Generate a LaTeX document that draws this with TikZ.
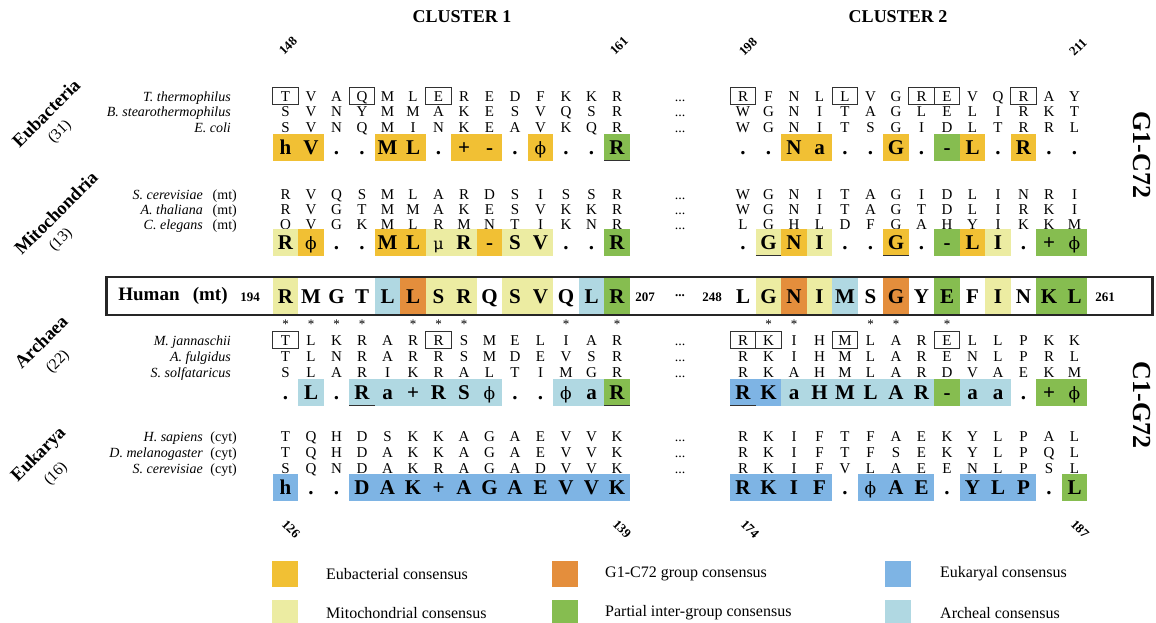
\documentclass[tikz,border=0pt]{standalone}
\usepackage{fontspec}
\setmainfont{Liberation Serif}
\newfontfamily\dvs{DejaVu Serif}
\definecolor{cEub}{RGB}{241,192,52}
\definecolor{cGone}{RGB}{228,142,60}
\definecolor{cEuk}{RGB}{126,180,228}
\definecolor{cMit}{RGB}{236,236,162}
\definecolor{cPar}{RGB}{134,189,80}
\definecolor{cArc}{RGB}{176,216,226}
\definecolor{lineg}{RGB}{50,50,50}
\newcommand{\phiG}{{\dvs\mdseries\fontsize{17}{17}\selectfont ϕ}}
\newcommand{\muG}{{\dvs\mdseries\fontsize{16}{16}\selectfont μ}}
\newcommand{\seqrow}[4]{%
  \foreach \lt [count=\i] in {#4} {
    \node[seqletter] (#1-\i) at ({#2+(\i-1)*25.5},#3) {\lt};
  }}
\newcommand{\consrow}[4]{%
  \foreach \lt/\cc [count=\i] in {#4} {
    \path[fill=\cc] ({#2+(\i-1)*25.5-12.75},{#3-13.5}) rectangle ++(25.7,27);
    \node[consletter] (#1-\i) at ({#2+(\i-1)*25.5},#3) {\lt};
  }}
\newcommand{\humrow}[4]{%
  \foreach \lt/\cc [count=\i] in {#4} {
    \path[fill=\cc] ({#2+(\i-1)*25.5-12.75},{#3-18}) rectangle ++(25.7,36);
    \node[consletter] (#1-\i) at ({#2+(\i-1)*25.5},#3) {\lt};
  }}
\begin{document}
\begin{tikzpicture}[x=1pt,y=-1pt,
  seqletter/.style={font=\fontsize{15}{15}\selectfont, inner sep=0pt, text height=10pt, text depth=0pt},
  consletter/.style={font=\bfseries\fontsize{21}{21}\selectfont, inner sep=0pt, text height=14pt, text depth=0pt},
  spname/.style={anchor=east, font=\itshape\fontsize{14}{14}\selectfont, inner sep=0pt, text height=10pt, text depth=0pt},
  spsuf/.style={anchor=east, font=\fontsize{14}{14}\selectfont, inner sep=0pt, text height=10pt, text depth=0pt},
  ell/.style={font=\fontsize{14}{14}\selectfont, inner sep=0pt, text height=10pt, text depth=0pt},
  boxd/.style={draw=lineg, line width=1.1pt, minimum width=25.5pt, minimum height=17pt, inner sep=0pt},
  astk/.style={font=\fontsize{13}{13}\selectfont, inner sep=0pt},
  uline/.style={draw=lineg, line width=1.6pt},
  clus/.style={font=\bfseries\fontsize{18}{18}\selectfont, inner sep=0pt},
  numlab/.style={font=\bfseries\fontsize{13}{13}\selectfont, inner sep=0pt},
  grp/.style={font=\bfseries\fontsize{18.5}{18.5}\selectfont, inner sep=0pt},
  grpn/.style={font=\fontsize{15.5}{15.5}\selectfont, inner sep=0pt},
  rlab/.style={font=\bfseries\fontsize{26}{26}\selectfont, inner sep=0pt},
  legsq/.style={minimum width=26pt, minimum height=26pt, inner sep=0pt},
  legtx/.style={anchor=west, font=\fontsize{16}{16}\selectfont, inner sep=0pt},
  humlab/.style={font=\bfseries\fontsize{19}{19}\selectfont, inner sep=0pt},
  humnum/.style={font=\bfseries\fontsize{13}{13}\selectfont, inner sep=0pt}
]
\useasboundingbox (0,0) rectangle (1156,622);

% headings
\node[clus] (cl1) at (462,17) {CLUSTER 1};
\node[clus] (cl2) at (898,17) {CLUSTER 2};
\node[numlab, rotate=45] (n148) at (288,46) {148};
\node[numlab, rotate=45] (n161) at (619,46) {161};
\node[numlab, rotate=45] (n198) at (748,47) {198};
\node[numlab, rotate=45] (n211) at (1078,47) {211};
\node[numlab, rotate=-45] (n126) at (291,529) {126};
\node[numlab, rotate=-45] (n139) at (622,529) {139};
\node[numlab, rotate=-45] (n174) at (750,529) {174};
\node[numlab, rotate=-45] (n187) at (1080,529) {187};

% group labels
\node[grp, rotate=45] (geub) at (46,113) {Eubacteria};
\node[grpn, rotate=45] (neub) at (60,132) {(31)};
\node[grp, rotate=45] (gmit) at (56,213) {Mitochondria};
\node[grpn, rotate=45] (nmit) at (61,240) {(13)};
\node[grp, rotate=45] (garc) at (41,342) {Archaea};
\node[grpn, rotate=45] (narc) at (58,362) {(22)};
\node[grp, rotate=45] (geuk) at (39,455) {Eukarya};
\node[grpn, rotate=45] (neuk) at (56,474) {(16)};
\node[rlab, rotate=-90] (g1c72) at (1142,155) {G1-C72};
\node[rlab, rotate=-90] (c1g72) at (1142,405) {C1-G72};

% ---------------- Eubacteria
\node[spname] (ntt) at (231,96) {T. thermophilus};
\node[spname] (nbs) at (231,111.5) {B. stearothermophilus};
\node[spname] (nec) at (231,127) {E. coli};
\seqrow{tta}{285.5}{96}{T,V,A,Q,M,L,E,R,E,D,F,K,K,R}
\seqrow{ttb}{743}{96}{R,F,N,L,L,V,G,R,E,V,Q,R,A,Y}
\seqrow{bsa}{285.5}{111.5}{S,V,N,Y,M,M,A,K,E,S,V,Q,S,R}
\seqrow{bsb}{743}{111.5}{W,G,N,I,T,A,G,L,E,L,I,R,K,T}
\seqrow{eca}{285.5}{127}{S,V,N,Q,M,I,N,K,E,A,V,K,Q,R}
\seqrow{ecb}{743}{127}{W,G,N,I,T,S,G,I,D,L,T,R,R,L}
\foreach \k in {1,4,7} \node[boxd] (btta\k) at (tta-\k) {};
\foreach \k in {1,5,8,9,12} \node[boxd] (bttb\k) at (ttb-\k) {};
\foreach \r/\yy in {tt/96, bs/111.5, ec/127} \node[ell] (el\r) at (680,\yy) {...};
\consrow{cea}{285.5}{147}{h/cEub,V/cEub,./none,./none,M/cEub,L/cEub,./none,+/cEub,-/cEub,./none,\phiG/cEub,./none,./none,R/cPar}
\consrow{ceb}{743}{147}{./none,./none,N/cEub,a/cEub,./none,./none,G/cEub,./none,-/cPar,L/cEub,./none,R/cEub,./none,./none}
\draw[uline] ([xshift=-12.75pt,yshift=-13.5pt]cea-14.center) -- ++(25.5,0);

% ---------------- Mitochondria
\node[spname] (nsc) at (203,194.5) {S. cerevisiae};
\node[spsuf] (xsc) at (237,194.5) {(mt)};
\node[spname] (nat) at (203,209) {A. thaliana};
\node[spsuf] (xat) at (237,209) {(mt)};
\node[spname] (nce) at (203,224) {C. elegans};
\node[spsuf] (xce) at (237,224) {(mt)};
\seqrow{sca}{285.5}{194.5}{R,V,Q,S,M,L,A,R,D,S,I,S,S,R}
\seqrow{scb}{743}{194.5}{W,G,N,I,T,A,G,I,D,L,I,N,R,I}
\seqrow{ata}{285.5}{209}{R,V,G,T,M,M,A,K,E,S,V,K,K,R}
\seqrow{atb}{743}{209}{W,G,N,I,T,A,G,T,D,L,I,R,K,I}
\seqrow{cea2}{285.5}{224}{Q,V,G,K,M,L,R,M,N,T,I,K,N,R}
\seqrow{ceb2}{743}{224}{L,G,H,L,D,F,G,A,H,Y,I,K,K,M}
\foreach \r/\yy in {sc/194.5, at/209, ce/224} \node[ell] (el\r) at (680,\yy) {...};
\consrow{cma}{285.5}{242}{R/cMit,\phiG/cEub,./none,./none,M/cEub,L/cEub,\muG/cMit,R/cMit,-/cEub,S/cMit,V/cMit,./none,./none,R/cPar}
\consrow{cmb}{743}{242}{./none,G/cMit,N/cEub,I/cMit,./none,./none,G/cEub,./none,-/cPar,L/cEub,I/cMit,./none,+/cPar,\phiG/cPar}
\draw[uline] ([xshift=-12.75pt,yshift=-13.5pt]cmb-2.center) -- ++(25.5,0);
\draw[uline] ([xshift=-12.75pt,yshift=-13.5pt]cmb-7.center) -- ++(25.5,0);

% ---------------- Human
\humrow{hua}{285.5}{296}{R/cMit,M/none,G/none,T/none,L/cArc,L/cGone,S/cMit,R/cMit,Q/none,S/cMit,V/cMit,Q/none,L/cArc,R/cPar}
\humrow{hub}{743}{296}{L/none,G/cMit,N/cGone,I/cMit,M/cArc,S/none,G/cGone,Y/none,E/cPar,F/none,I/cMit,N/none,K/cPar,L/cPar}
\node[draw=black!85, line width=2.5pt, minimum width=1046pt, minimum height=38pt, inner sep=0pt] (hbox) at (629.5,296) {};
\node[humlab] (hlab) at (173,296) {Human\hspace{0.7em}(mt)};
\node[humnum] (h194) at (250,297) {194};
\node[humnum] (h207) at (645,297) {207};
\node[humnum] (hdots) at (680,296) {...};
\node[humnum] (h248) at (712,297) {248};
\node[humnum] (h261) at (1105,297) {261};

% stars
\foreach \k in {1,2,3,4,6,7,8,12,14} \node[astk] (sa\k) at ({285.5+(\k-1)*25.5},324) {*};
\foreach \k in {2,3,6,7,9} \node[astk] (sb\k) at ({743+(\k-1)*25.5},324) {*};

% ---------------- Archaea
\node[spname] (nmj) at (231,340) {M. jannaschii};
\node[spname] (naf) at (231,356.5) {A. fulgidus};
\node[spname] (nss) at (231,372.5) {S. solfataricus};
\seqrow{mja}{285.5}{340}{T,L,K,R,A,R,R,S,M,E,L,I,A,R}
\seqrow{mjb}{743}{340}{R,K,I,H,M,L,A,R,E,L,L,P,K,K}
\seqrow{afa}{285.5}{356.5}{T,L,N,R,A,R,R,S,M,D,E,V,S,R}
\seqrow{afb}{743}{356.5}{R,K,I,H,M,L,A,R,E,N,L,P,R,L}
\seqrow{ssa}{285.5}{372.5}{S,L,A,R,I,K,R,A,L,T,I,M,G,R}
\seqrow{ssb}{743}{372.5}{R,K,A,H,M,L,A,R,D,V,A,E,K,M}
\foreach \k in {1,7} \node[boxd] (bmja\k) at (mja-\k) {};
\foreach \k in {1,2,5,9} \node[boxd] (bmjb\k) at (mjb-\k) {};
\foreach \r/\yy in {mj/340, af/356.5, ss/372.5} \node[ell] (el\r) at (680,\yy) {...};
\consrow{caa}{285.5}{392}{./none,L/cArc,./none,R/cArc,a/cArc,+/cArc,R/cArc,S/cArc,\phiG/cArc,./none,./none,\phiG/cArc,a/cArc,R/cPar}
\consrow{cab}{743}{392}{R/cEuk,K/cEuk,a/cArc,H/cArc,M/cArc,L/cArc,A/cArc,R/cArc,-/cPar,a/cArc,a/cArc,./none,+/cPar,\phiG/cPar}
\draw[uline] ([xshift=-12.75pt,yshift=-13.5pt]caa-4.center) -- ++(25.5,0);
\draw[uline] ([xshift=-12.75pt,yshift=-13.5pt]caa-14.center) -- ++(25.5,0);
\draw[uline] ([xshift=-12.75pt,yshift=-13.5pt]cab-1.center) -- ++(25.5,0);

% ---------------- Eukarya
\node[spname] (nhs) at (203,436.5) {H. sapiens};
\node[spsuf] (xhs) at (237,436.5) {(cyt)};
\node[spname] (ndm) at (203,452.5) {D. melanogaster};
\node[spsuf] (xdm) at (237,452.5) {(cyt)};
\node[spname] (nsy) at (203,468) {S. cerevisiae};
\node[spsuf] (xsy) at (237,468) {(cyt)};
\seqrow{hsa}{285.5}{436.5}{T,Q,H,D,S,K,K,A,G,A,E,V,V,K}
\seqrow{hsb}{743}{436.5}{R,K,I,F,T,F,A,E,K,Y,L,P,A,L}
\seqrow{dma}{285.5}{452.5}{T,Q,H,D,A,K,K,A,G,A,E,V,V,K}
\seqrow{dmb}{743}{452.5}{R,K,I,F,T,F,S,E,K,Y,L,P,Q,L}
\seqrow{sya}{285.5}{468}{S,Q,N,D,A,K,R,A,G,A,D,V,V,K}
\seqrow{syb}{743}{468}{R,K,I,F,V,L,A,E,E,N,L,P,S,L}
\foreach \r/\yy in {hs/436.5, dm/452.5, sy/468} \node[ell] (el\r) at (680,\yy) {...};
\consrow{cka}{285.5}{487}{h/cEuk,./none,./none,D/cEuk,A/cEuk,K/cEuk,+/cEuk,A/cEuk,G/cEuk,A/cEuk,E/cEuk,V/cEuk,V/cEuk,K/cEuk}
\consrow{ckb}{743}{487}{R/cEuk,K/cEuk,I/cEuk,F/cEuk,./none,\phiG/cEuk,A/cEuk,E/cEuk,./none,Y/cEuk,L/cEuk,P/cEuk,./none,L/cPar}

% ---------------- legend
\node[legsq, fill=cEub] (lq1) at (285,574) {};
\node[legtx] (lt1) at (326,574) {Eubacterial consensus};
\node[legsq, fill=cMit] (lq2) at (285,613) {};
\node[legtx] (lt2) at (326,613) {Mitochondrial consensus};
\node[legsq, fill=cGone] (lq3) at (564.5,574) {};
\node[legtx] (lt3) at (605,574) {G1-C72 group consensus};
\node[legsq, fill=cPar] (lq4) at (564.5,613) {};
\node[legtx] (lt4) at (605,613) {Partial inter-group consensus};
\node[legsq, fill=cEuk] (lq5) at (897.5,574) {};
\node[legtx] (lt5) at (940,574) {Eukaryal consensus};
\node[legsq, fill=cArc] (lq6) at (897.5,613) {};
\node[legtx] (lt6) at (940,613) {Archeal consensus};
\end{tikzpicture}
\end{document}
